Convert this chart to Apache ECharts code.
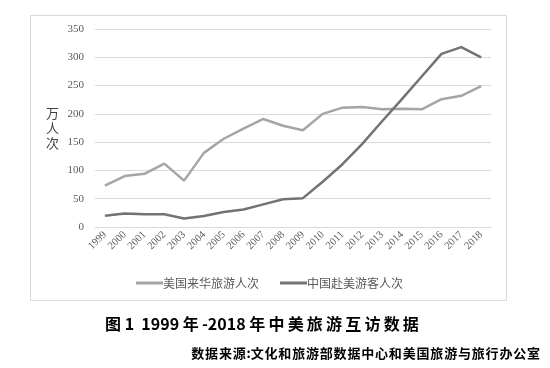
<!DOCTYPE html>
<html><head><meta charset="utf-8">
<script src="https://cdn.jsdelivr.net/npm/echarts@6/dist/echarts.min.js"></script>
<style>html,body{margin:0;padding:0;background:#fff;}#c{width:550px;height:368px;}</style>
</head><body><div id="c"></div>
<script>
const years = ['1999','2000','2001','2002','2003','2004','2005','2006','2007','2008','2009','2010','2011','2012','2013','2014','2015','2016','2017','2018'];
const usToChina = [73, 90, 94, 112, 82, 131, 156, 174, 191, 179, 171, 200, 211, 212, 208, 209, 208, 226, 232, 249];
const chinaToUs = [20, 24, 22.5, 22.5, 15, 19.5, 26.5, 31, 40, 49, 51, 80, 111, 147, 187, 226, 266, 306, 318, 300];
const yTicks = {min: 0, max: 350, interval: 50};
const seriesNames = ['美国来华旅游人次', '中国赴美游客人次'];
const titleText = '图 1  1999 年-2018 年中美旅游互访数据';
const sourceText = '数据来源:文化和旅游部数据中心和美国旅游与旅行办公室';

function spacedCJK(s, sp) {
  const chars = Array.from(s);
  let out = '';
  chars.forEach((c, i) => {
    out += c;
    if (i < chars.length - 1 && /[\u4e00-\u9fff]/.test(c) && chars[i + 1] !== ' ') out += sp;
  });
  return out;
}

const chart = echarts.init(document.getElementById('c'));
chart.setOption({
  animation: false,
  backgroundColor: '#fff',
  graphic: [
    {type: 'rect', shape: {x: 30.5, y: 15.5, width: 476, height: 285}, style: {fill: 'none', stroke: '#d9d9d9', lineWidth: 1}, z: -1},
    {type: 'text', left: 46, top: 106, style: {text: '万\n人\n次', font: '13px "Noto Sans CJK SC"', fill: '#404040', lineHeight: 15}}
  ],
  title: [
    {text: spacedCJK(titleText, '\u2009'), left: 100, top: 311,
     textStyle: {fontFamily: '"Noto Sans CJK SC"', fontSize: 16, fontWeight: 'bold', color: '#000'}},
    {text: spacedCJK(sourceText, '\u200A'), right: 5, top: 342,
     textStyle: {fontFamily: '"Noto Sans CJK SC"', fontSize: 13, fontWeight: 'bold', color: '#000'}}
  ],
  grid: {left: 95, right: 59, top: 29, bottom: 141, containLabel: false},
  legend: {
    left: 131, top: 272, itemWidth: 27, itemHeight: 3, itemGap: 21,
    icon: 'rect',
    textStyle: {fontFamily: '"Noto Sans CJK SC"', fontSize: 12, color: '#595959', padding: [0,0,0,-5]},
    data: seriesNames
  },
  xAxis: {
    type: 'category', data: years, boundaryGap: true,
    axisLine: {show: true, lineStyle: {color: '#d9d9d9'}},
    axisTick: {show: false},
    axisLabel: {rotate: 45, fontSize: 10.5, color: '#595959', fontFamily: '"Liberation Serif"', interval: 0, margin: 6}
  },
  yAxis: {
    type: 'value', min: yTicks.min, max: yTicks.max, interval: yTicks.interval,
    axisLine: {show: false}, axisTick: {show: false},
    splitLine: {lineStyle: {color: '#d9d9d9'}},
    axisLabel: {fontSize: 11, color: '#595959', fontFamily: '"Liberation Serif"', margin: 11}
  },
  series: [
    {name: seriesNames[0], type: 'line', data: usToChina, symbol: 'none', lineStyle: {color: '#a5a5a5', width: 2.5}, itemStyle: {color: '#a5a5a5'}},
    {name: seriesNames[1], type: 'line', data: chinaToUs, symbol: 'none', lineStyle: {color: '#737373', width: 2.5}, itemStyle: {color: '#737373'}}
  ]
});
</script></body></html>
